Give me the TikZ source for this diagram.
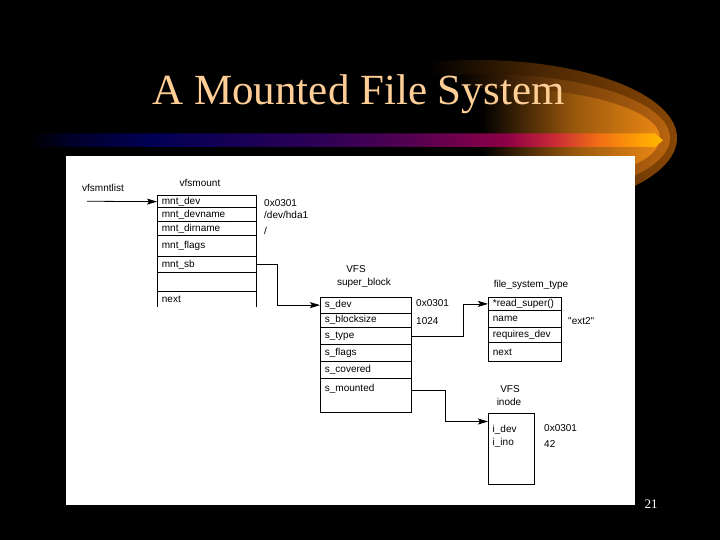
\documentclass[tikz,border=0pt]{standalone}
\usepackage{fontspec}
\setmainfont{Liberation Serif}
\newfontfamily\dsans{Liberation Sans}
\usetikzlibrary{arrows.meta}
\definecolor{titlecol}{RGB}{255,206,150}
\definecolor{bA}{RGB}{0,0,40}
\definecolor{bB}{RGB}{0,0,85}
\definecolor{bC}{RGB}{45,0,85}
\definecolor{bD}{RGB}{85,0,80}
\definecolor{bE}{RGB}{140,0,70}
\definecolor{bF}{RGB}{200,40,55}
\definecolor{bG}{RGB}{240,110,20}
\definecolor{bH}{RGB}{255,165,5}
\definecolor{bI}{RGB}{255,185,0}
\definecolor{swa}{RGB}{135,70,5}
\definecolor{swb}{RGB}{185,100,15}
\definecolor{swc}{RGB}{235,135,20}
\colorlet{swah}{swa!55!black}
\colorlet{swbh}{swb!60!black}
\colorlet{swch}{swc!65!black}
\pgfdeclarehorizontalshading{barshade}{100bp}{color(0bp)=(black); color(25bp)=(black); color(28bp)=(bA); color(34.6bp)=(bB); color(48bp)=(bC); color(55.3bp)=(bD); color(62.6bp)=(bE); color(66.3bp)=(bF); color(69.9bp)=(bG); color(73.5bp)=(bH); color(75bp)=(bI); color(100bp)=(bI)}
\pgfdeclarehorizontalshading{swA}{100bp}{color(0bp)=(black); color(44bp)=(black); color(58bp)=(swah); color(75bp)=(swa); color(100bp)=(swa)}
\pgfdeclarehorizontalshading{swB}{100bp}{color(0bp)=(black); color(46bp)=(black); color(60bp)=(swbh); color(75bp)=(swb); color(100bp)=(swb)}
\pgfdeclarehorizontalshading{swC}{100bp}{color(0bp)=(black); color(48bp)=(black); color(62bp)=(swch); color(75bp)=(swc); color(100bp)=(swc)}
\begin{document}
\begin{tikzpicture}[x=1pt,y=-1pt,
  dfont/.style={font=\dsans\fontsize{10}{12}\selectfont},
  fld/.style={dfont, draw=black, line width=0.8pt, anchor=north west, inner xsep=4.5pt, inner ysep=0pt, align=left, text width=#1},
  txt/.style={dfont, inner sep=0pt},
  arr/.style={-{Stealth[length=10pt,width=6pt,inset=2pt]}, line width=0.8pt},
  line/.style={line width=0.8pt}]
\useasboundingbox (0,0) rectangle (720,540);
\fill[black] (0,0) rectangle (720,540);
% swoosh
\shade[shading=swA] (477,138) ellipse [x radius=200, y radius=78];
\shade[shading=swB] (485,138) ellipse [x radius=185, y radius=64];
\shade[shading=swC] (495,138) ellipse [x radius=165, y radius=50];
% bar
\shade[shading=barshade] (30,133.5) -- (655,133.5) -- (663,140.25) -- (655,147) -- (30,147) -- cycle;
% title
\node[font=\fontsize{43}{50}\selectfont, text=titlecol, anchor=base, inner sep=0pt] (title) at (358.5,105) {A Mounted File System};
% panel
\fill[white] (66,156) rectangle (635,505);
\node[font=\fontsize{13}{15}\selectfont, text=white, anchor=base, inner sep=0pt] (pnum) at (651,508.5) {21};

% vfsmount
\node[txt, anchor=base west] (vlist) at (82,191.5) {vfsmntlist};
\node[txt, anchor=base] (vfsmlab) at (200,186.5) {vfsmount};
\node[fld=90pt, minimum height=12.5pt] (mntdev) at (157,195) {mnt\_dev};
\node[fld=90pt, minimum height=13.5pt] (mntdevname) at (157,207.5) {mnt\_devname};
\node[fld=90pt, minimum height=14pt] (mntdirname) at (157,221) {mnt\_dirname};
\node[fld=90pt, minimum height=21pt] (mntflags) at (157,235) {mnt\_flags};
\node[fld=90pt, minimum height=16pt] (mntsb) at (157,256) {mnt\_sb};
\node[fld=90pt, minimum height=19pt] (mntblank) at (157,272) {};
\node[fld=90pt, draw=none, minimum height=15pt] (mntnext) at (157,291) {next};
\draw[line] (mntnext.south west) -- (mntnext.north west) -- (mntnext.north east) -- (mntnext.south east);
\node[txt, anchor=base west] (v1) at (264,206.3) {0x0301};
\node[txt, anchor=base west] (v2) at (264,218.6) {/dev/hda1};
\node[txt, anchor=base west] (v3) at (264,234.5) {/};
\coordinate (lstart) at (87,201.25);
\draw[arr] (lstart) -- (mntdev.west);

% super_block
\node[txt, anchor=base] (sbvfs) at (356,272.5) {VFS};
\node[txt, anchor=base] (sblab) at (364,285.5) {super\_block};
\node[fld=82pt, minimum height=15.5pt] (sdev) at (320,297) {s\_dev};
\node[fld=82pt, minimum height=14.5pt] (sblock) at (320,312.5) {s\_blocksize};
\node[fld=82pt, minimum height=17pt] (stype) at (320,327) {s\_type};
\node[fld=82pt, minimum height=17pt] (sflags) at (320,344) {s\_flags};
\node[fld=82pt, minimum height=17pt] (scovered) at (320,361) {s\_covered};
\node[fld=82pt, minimum height=0pt, text height=13.5pt, text depth=20.5pt] (smounted) at (320,378) {s\_mounted};
\node[txt, anchor=base west] (sv1) at (416,306.6) {0x0301};
\node[txt, anchor=base west] (sv2) at (416,324.3) {1024};
\draw[arr] (mntsb.east) -- ++(21pt,0) |- (sdev.west);

% file_system_type
\node[txt, anchor=base] (fstlab) at (531,287.5) {file\_system\_type};
\node[fld=64pt, minimum height=13pt] (readsuper) at (488,297) {*read\_super()};
\node[fld=64pt, minimum height=17pt] (fname) at (488,310) {name};
\node[fld=64pt, minimum height=15pt] (reqdev) at (488,327) {requires\_dev};
\node[fld=64pt, minimum height=19pt] (fnext) at (488,342) {next};
\node[txt, anchor=base west] (fv1) at (568,324) {"ext2"};
\draw[arr] (stype.east) -- ++(51.5pt,0) |- (readsuper.west);

% inode
\node[txt, anchor=base] (invfs) at (510,392.5) {VFS};
\node[txt, anchor=base] (inlab) at (509,405.5) {inode};
\node[draw=black, line width=0.8pt, anchor=north west, minimum width=46pt, minimum height=71pt, inner sep=0pt] (inode) at (488,413) {};
\node[txt, anchor=base west] (idev) at (492.5,432.5) {i\_dev};
\node[txt, anchor=base west] (iino) at (492.5,445.5) {i\_ino};
\node[txt, anchor=base west] (iv1) at (544,431) {0x0301};
\node[txt, anchor=base west] (iv2) at (544,447) {42};
\draw[arr] ([yshift=5pt]smounted.east) -- ++(34pt,0) |- ([yshift=-8.5pt]inode.north west);
\end{tikzpicture}
\end{document}
